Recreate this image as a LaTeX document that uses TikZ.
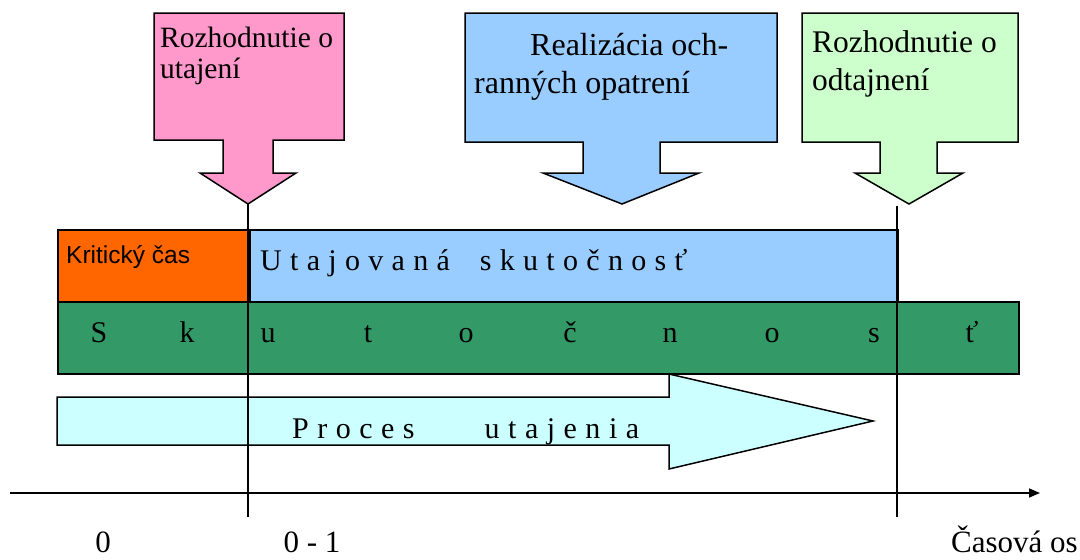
\documentclass[tikz,border=0pt]{standalone}
\usepackage{fontspec}
\setmainfont{Liberation Serif}
\newfontfamily\arialfont{Liberation Sans}
\usetikzlibrary{arrows.meta, positioning}

\definecolor{pinkcall}{HTML}{FF99CC}
\definecolor{bluecall}{HTML}{99CCFF}
\definecolor{greencall}{HTML}{CCFFCC}
\definecolor{orangebar}{HTML}{FF6600}
\definecolor{greenbar}{HTML}{339966}
\definecolor{cyanarrow}{HTML}{CCFFFF}

\tikzstyle{callout} = [draw=black, line width=1.5pt, line join=miter]
\tikzstyle{bar} = [rectangle, draw=black, line width=1.5pt, anchor=north west, inner sep=0pt, minimum height=72pt]
\tikzstyle{calltext} = [anchor=north west, inner sep=0pt, align=left]
\tikzstyle{bartext} = [anchor=base west, inner sep=0pt, font=\fontsize{30}{36}\selectfont]
\tikzstyle{letter} = [anchor=base, inner sep=0pt, font=\fontsize{30}{36}\selectfont]
\tikzstyle{axislabel} = [anchor=base, inner sep=0pt, font=\fontsize{31}{37}\selectfont]
\tikzstyle{marker} = [line width=1.6pt]

% arrow shaped callout: left, right, bottom, shaft left/right, head left/right, tip x, colour
\newcommand{\calloutbox}[9]{%
  \draw[callout, fill=#9] (#1,13) -- (#2,13) -- (#2,#3) -- (#5,#3) -- (#5,173) -- (#7,173)
    -- (#8,204) -- (#6,173) -- (#4,173) -- (#4,#3) -- (#1,#3) -- cycle;}

\begin{document}
\begin{tikzpicture}[x=1pt, y=-1pt]
    \useasboundingbox (0,0) rectangle (1080,560);

    % callouts
    \calloutbox{154}{344}{140}{223}{273}{200}{296}{248}{pinkcall}
    \calloutbox{465}{777}{142}{583}{660}{543}{699}{622}{bluecall}
    \calloutbox{802}{1018}{142}{880}{937}{855}{963}{909}{greencall}

    \node (pinktext) [calltext, font=\fontsize{29.5}{31}\selectfont] at (160,26.5) {Rozhodnutie o\\utajení};
    \node (bluetext) [calltext, font=\fontsize{32}{38}\selectfont] at (474,33.5) {\hspace*{56pt}Realizácia och-\\ranných opatrení};
    \node (greentext) [calltext, font=\fontsize{31.5}{38}\selectfont] at (812,30.2) {Rozhodnutie o\\odtajnení};

    % bars
    \node (kritbox) [bar, fill=orangebar, minimum width=192pt] at (57,229) {};
    \node (utajbox) [bar, fill=bluecall, minimum width=648pt] at (249,229) {};
    \node (skutbox) [bar, fill=greenbar, minimum width=961pt] at (57,301) {};

    \node (krittext) [anchor=base west, inner sep=0pt, font=\arialfont\fontsize{24.5}{30}\selectfont] at (66,263) {Kritický čas};
    \node (utajtext) [bartext] at (260,270) {\spaceskip=8.3pt U t a j o v a n á\hspace{30pt}s k u t o č n o s ť};

    \foreach \x/\l [count=\i] in {99/S, 187/k, 268/u, 368/t, 466/o, 570/č, 670/n, 772/o, 874/s, 972/ť}
        \node (letter\i) [letter] at (\x,342) {\l};

    % process arrow
    \draw[callout, fill=cyanarrow] (57,397) -- (669,397) -- (669,374) -- (873,421) -- (669,469) -- (669,445) -- (57,445) -- cycle;
    \node (proctext) [bartext] at (292,438) {\spaceskip=8.5pt P r o c e s\hspace{70pt}u t a j e n i a};

    % time axis
    \coordinate (axstart) at (10,493);
    \coordinate (axend) at (1040,493);
    \draw[marker, -{Triangle[length=11pt, width=9pt]}] (axstart) -- (axend);

    \coordinate (tipA) at (248,204);
    \coordinate (footA) at (248,517);
    \coordinate (tipB) at (897,206);
    \coordinate (footB) at (897,517);
    \draw[marker] (tipA) -- (footA);
    \draw[marker] (tipB) -- (footB);

    \node (zero) [axislabel] at (103,552) {0};
    \node (zeroone) [axislabel] at (312,552) {0 - 1};
    \node (casova) [anchor=base east, inner sep=0pt, font=\fontsize{31}{37}\selectfont] at (1078,552) {Časová os};
\end{tikzpicture}
\end{document}
